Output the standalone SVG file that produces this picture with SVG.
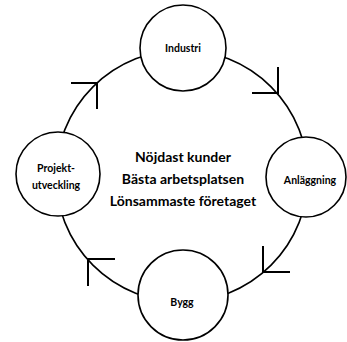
<svg xmlns="http://www.w3.org/2000/svg" width="347" height="342" viewBox="0 0 347 342">
<style>
.ring{fill:none;stroke:#000;stroke-width:1.6}
.arr{fill:none;stroke:#000;stroke-width:2}
.node{fill:#fff;stroke:#000;stroke-width:1.6}
.lbl{font-family:Lato,"Open Sans",sans-serif;font-size:10.5px;font-weight:bold;text-anchor:middle;dominant-baseline:central;fill:#000}
.mid{font-family:Lato,"Open Sans",sans-serif;font-size:14px;font-weight:bold;text-anchor:middle;dominant-baseline:central;fill:#000}
</style>
<rect width="347" height="342" fill="#fff"/>
<g id="connectors">
<circle class="ring" cx="182" cy="176" r="126"/>
<path class="arr" d="M71,83H97V109"/>
<path class="arr" d="M252,93H278V67"/>
<path class="arr" d="M290,272H263V246"/>
<path class="arr" d="M115,259H88V286"/>
</g>
<g id="industri"><circle class="node" cx="183" cy="48" r="43"/><text class="lbl" x="183" y="48">Industri</text></g>
<g id="anlaggning"><circle class="node" cx="306" cy="177" r="40"/><text class="lbl" x="310" y="180">Anläggning</text></g>
<g id="bygg"><circle class="node" cx="183" cy="295" r="45"/><text class="lbl" x="182" y="302">Bygg</text></g>
<g id="projektutveckling"><circle class="node" cx="58" cy="174" r="42"/><text class="lbl" x="56" y="168">Projekt-</text><text class="lbl" x="56" y="185">utveckling</text></g>
<g id="center"><text class="mid" x="183" y="156">Nöjdast kunder</text><text class="mid" x="183" y="178">Bästa arbetsplatsen</text><text class="mid" x="183" y="200.5">Lönsammaste företaget</text></g>
</svg>
